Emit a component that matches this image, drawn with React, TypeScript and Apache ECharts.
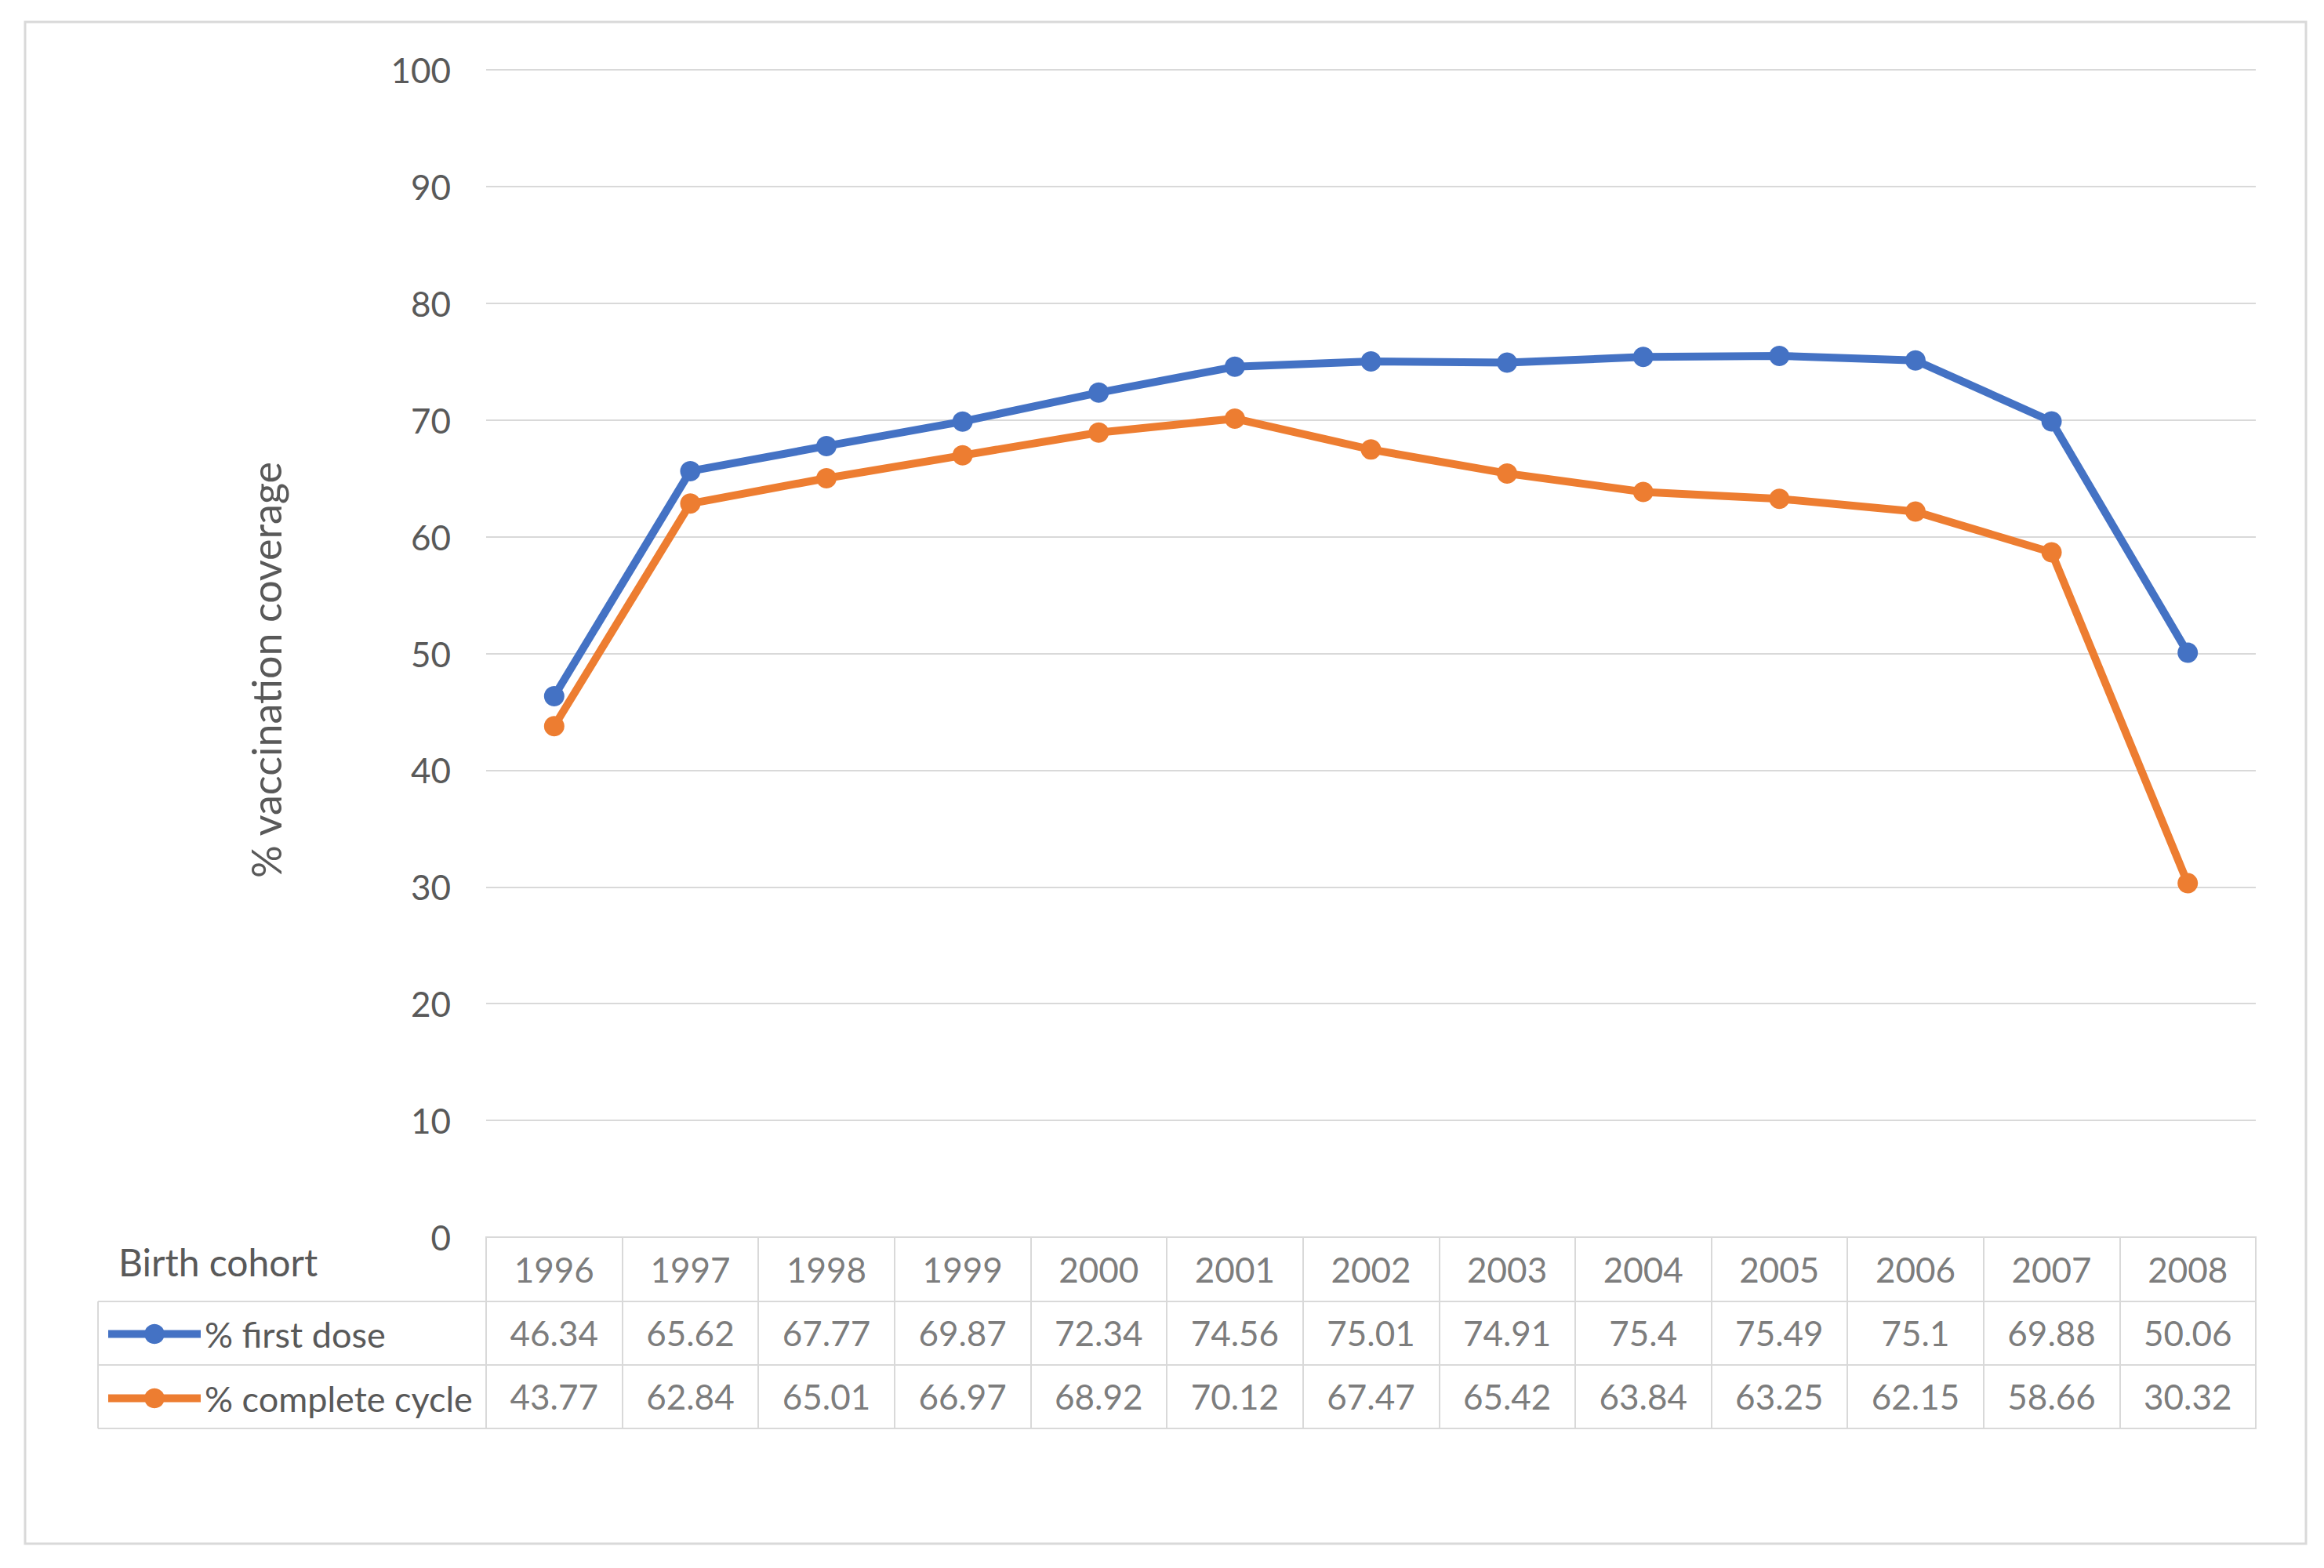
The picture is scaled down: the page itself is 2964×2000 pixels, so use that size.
import React, { useEffect, useRef } from "react";
import * as echarts from "echarts";

const years = ["1996", "1997", "1998", "1999", "2000", "2001", "2002", "2003", "2004", "2005", "2006", "2007", "2008"];
const firstDose = [46.34, 65.62, 67.77, 69.87, 72.34, 74.56, 75.01, 74.91, 75.4, 75.49, 75.1, 69.88, 50.06];
const completeCycle = [43.77, 62.84, 65.01, 66.97, 68.92, 70.12, 67.47, 65.42, 63.84, 63.25, 62.15, 58.66, 30.32];
const rowNames = ["Birth cohort", "% first dose", "% complete cycle"];
const seriesNames = ["% first dose", "% complete cycle"];
const yTitle = "% vaccination coverage";

const BLUE = "#4472C4";
const ORANGE = "#ED7D31";
const GRID = "#D9D9D9";
const TEXT = "#595959";
const FONT = "Lato";

export default function App() {
  const ref = useRef<HTMLDivElement>(null);
  useEffect(() => {
    document.body.style.margin = "0";
    const chart = echarts.init(ref.current!, null, { renderer: "svg" });
    const L = 620, R = 87, T = 89, B0 = 1578, TB = 1822;
    const option: any = {
      animation: false,
      backgroundColor: "#fff",
      textStyle: { fontFamily: FONT },
      grid: [
        { left: L, right: R, top: T, height: B0 - T },
        { left: L, right: R, top: B0, height: TB - B0, show: true, borderColor: GRID, borderWidth: 2 },
      ],
      legend: {
        data: seriesNames,
        orient: "vertical",
        left: 128,
        top: 1674,
        itemWidth: 118,
        itemHeight: 32,
        itemGap: 37,
        lineStyle: { width: 10 },
        textStyle: { fontSize: 45, color: TEXT, fontFamily: FONT, lineHeight: 44 },
      },
      xAxis: [
        { type: "category", gridIndex: 0, data: years, boundaryGap: true, show: false },
        {
          type: "category", gridIndex: 1, data: years, boundaryGap: true, position: "top",
          axisLine: { show: true, lineStyle: { color: GRID, width: 2 } },
          axisTick: { show: false }, axisLabel: { show: false },
          splitLine: { show: true, lineStyle: { color: GRID, width: 2 } },
        },
      ],
      yAxis: [
        {
          type: "value", gridIndex: 0, min: 0, max: 100, interval: 10,
          axisLine: { show: false }, axisTick: { show: false },
          axisLabel: { fontSize: 44, color: TEXT, fontFamily: FONT, margin: 45 },
          splitLine: { lineStyle: { color: GRID, width: 2 } },
          name: yTitle, nameLocation: "middle", nameRotate: 90, nameGap: 255,
          nameTextStyle: { fontSize: 52, color: TEXT, fontFamily: FONT, padding: [0, 42, 0, 0] },
        },
        {
          type: "category", gridIndex: 1, data: rowNames, inverse: true,
          axisLine: { show: true, lineStyle: { color: GRID, width: 2 } },
          axisTick: { show: false },
          axisLabel: {
            fontSize: 48, color: TEXT, fontFamily: FONT, align: "left", margin: 469,
            verticalAlign: "bottom", lineHeight: 18,
            formatter: (v: string, i: number) => (i === 0 ? v : ""),
          },
          splitLine: { show: true, lineStyle: { color: GRID, width: 2 } },
        },
      ],
      series: [
        {
          name: seriesNames[0], type: "line", data: firstDose, xAxisIndex: 0, yAxisIndex: 0,
          symbol: "circle", symbolSize: 26, color: BLUE,
          lineStyle: { width: 10, color: BLUE }, itemStyle: { color: BLUE },
        },
        {
          name: seriesNames[1], type: "line", data: completeCycle, xAxisIndex: 0, yAxisIndex: 0,
          symbol: "circle", symbolSize: 26, color: ORANGE,
          lineStyle: { width: 10, color: ORANGE }, itemStyle: { color: ORANGE },
        },
        ...[years, firstDose, completeCycle].map((vals, r) => ({
          type: "scatter", xAxisIndex: 1, yAxisIndex: 1, symbolSize: 1, silent: true,
          itemStyle: { color: "rgba(0,0,0,0)" },
          label: {
            show: true, position: "inside", fontSize: 44, color: TEXT, fontFamily: FONT,
            formatter: (p: any) => String(p.data[2]),
          },
          data: (vals as any[]).map((v, i) => [years[i], rowNames[r], v]),
        })),
      ],
      graphic: [
        { type: "rect", shape: { x: 32, y: 28, width: 2909, height: 1941 }, style: { fill: "none", stroke: GRID, lineWidth: 3 } },
        { type: "line", shape: { x1: 125, y1: 1660, x2: L, y2: 1660 }, style: { stroke: GRID, lineWidth: 2 } },
        { type: "line", shape: { x1: 125, y1: 1741, x2: L, y2: 1741 }, style: { stroke: GRID, lineWidth: 2 } },
        { type: "line", shape: { x1: 125, y1: 1822, x2: L, y2: 1822 }, style: { stroke: GRID, lineWidth: 2 } },
        { type: "line", shape: { x1: 125, y1: 1660, x2: 125, y2: 1822 }, style: { stroke: GRID, lineWidth: 2 } },
      ],
    };
    chart.setOption(option);
    return () => chart.dispose();
  }, []);
  return <div ref={ref} style={{ width: 2964, height: 2000 }} />;
}
